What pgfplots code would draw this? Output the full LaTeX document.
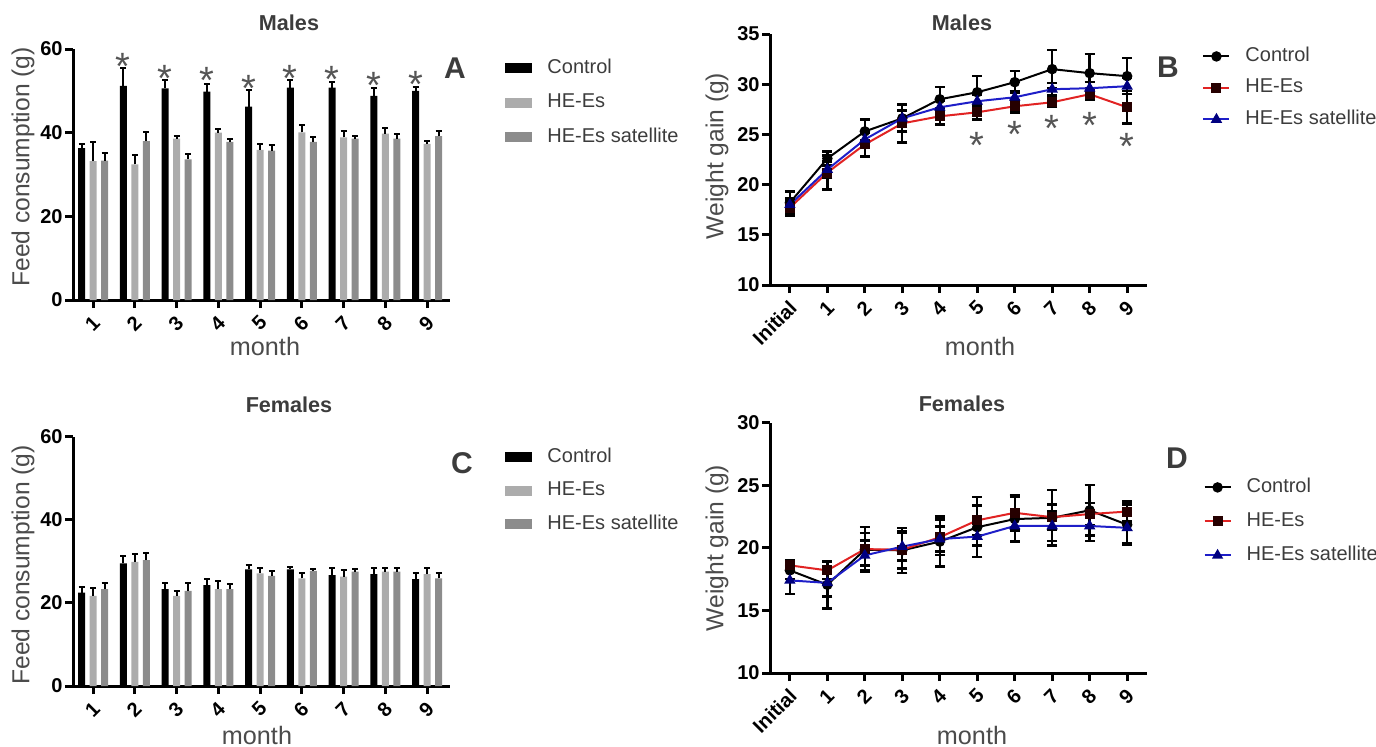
\documentclass[border=0pt]{standalone}
\usepackage{fontspec}
\setmainfont{Liberation Sans}
\usepackage{pgfplots}
\usepackage{pgfplotstable}
\pgfplotsset{compat=1.18}

\definecolor{lgray}{RGB}{172,172,172}
\definecolor{dgray}{RGB}{140,140,140}
\definecolor{labgray}{RGB}{75,75,75}
\definecolor{ttlgray}{RGB}{60,60,60}
\definecolor{astgray}{RGB}{85,85,85}
\definecolor{myred}{RGB}{225,35,35}
\definecolor{myblue}{RGB}{30,30,200}

% feed consumption, males (A): value and upper error
\pgfplotstableread{
m c ce h he s se
1 36.3 1.0 33.2 4.6 33.3 1.8
2 51.2 4.2 32.4 2.3 38.0 2.2
3 50.6 2.0 38.6 0.6 33.6 1.3
4 49.8 1.8 40.0 0.9 37.8 0.8
5 46.2 4.0 35.9 1.4 35.7 1.4
6 50.8 1.9 40.1 1.7 37.8 1.2
7 50.8 1.3 38.9 1.5 38.6 0.5
8 48.8 2.0 39.8 1.2 38.6 1.0
9 50.0 1.0 37.3 0.6 39.2 1.2
}\feedM

% feed consumption, females (C)
\pgfplotstableread{
m c ce h he s se
1 22.5 1.4 21.7 1.8 23.3 1.4
2 29.5 1.8 29.9 1.9 30.3 1.8
3 23.3 1.4 21.7 1.2 22.9 2.0
4 24.3 1.4 23.3 2.0 23.3 1.3
5 28.1 1.0 27.1 1.4 26.5 1.2
6 28.1 0.6 25.9 1.2 27.7 0.4
7 26.7 1.6 26.3 1.6 27.5 0.6
8 26.9 1.4 27.5 1.0 27.5 1.0
9 25.7 1.6 26.9 1.4 25.9 1.2
}\feedF

% significance marks above control bars (A)
\pgfplotstableread{
x y
1.724 57.8
2.724 55.0
3.724 54.3
4.724 52.6
5.724 55.0
6.724 54.7
7.724 53.1
8.724 53.5
}\astA

% weight gain, males (B), x=0 is Initial
\pgfplotstableread{
x c ce h he s se
0 18.2 1.1 17.7 0.8 18.0 0.6
1 22.6 0.7 21.2 1.7 21.5 0.8
2 25.3 1.2 24.0 1.2 24.5 0.8
3 26.6 1.3 26.1 1.9 26.6 0.8
4 28.5 1.2 26.8 0.8 27.7 0.6
5 29.2 1.6 27.2 0.7 28.3 0.6
6 30.2 1.1 27.8 0.6 28.7 0.6
7 31.5 1.9 28.2 0.5 29.5 0.6
8 31.1 1.9 29.0 0.6 29.6 0.6
9 30.8 1.8 27.7 1.6 29.8 0.8
}\wgtM

\pgfplotstableread{
x y
5 24.7
6 25.8
7 26.4
8 26.7
9 24.6
}\astB

% weight gain, females (D)
\pgfplotstableread{
x c ce h he s se
0 18.2 0.7 18.6 0.4 17.4 1.1
1 17.05 1.9 18.2 0.7 17.2 1.1
2 19.85 1.8 19.9 1.3 19.4 1.2
3 19.8 1.8 19.85 1.5 20.1 1.1
4 20.5 2.0 20.85 1.4 20.7 1.0
5 21.65 2.4 22.2 1.2 20.9 0.7
6 22.3 1.8 22.8 1.4 21.75 1.2
7 22.4 2.2 22.45 1.0 21.75 1.2
8 23.0 2.0 22.7 0.9 21.75 1.2
9 21.85 1.6 22.9 0.8 21.6 1.2
}\wgtF

\pgfplotsset{
  panel/.style={
    scale only axis, anchor=south west, clip=false,
    axis x line*=bottom, axis y line*=left,
    axis line style={line width=1.5pt, black},
    tick align=outside, major tick length=4pt,
    tick style={line width=1.5pt, black},
    /pgf/number format/assume math mode=true,
    ticklabel style={font=\bfseries\fontsize{10}{12}\selectfont, text=black},
    yticklabel style={inner sep=0pt, xshift=-1pt},
    xticklabel style={inner sep=0pt, xshift=1.75pt, yshift=-5.5pt, rotate=45, anchor=east},
    legend cell align=left,
    legend style={draw=none, fill=none, inner sep=0pt, font=\fontsize{10}{12}\selectfont,
      text=ttlgray, column sep=7.5pt,
      nodes={inner sep=0pt, text height=7pt, text depth=2pt}},
  },
  barpanel/.style={panel, width=188.5pt, xmin=0.52, xmax=9.55,
    ymin=0, ymax=60, ytick={0,20,40,60}, xtick={1,...,9}},
  linepanel/.style={panel, width=188.5pt, xmin=-0.53, xmax=9.53,
    xtick={0,...,9}, xticklabels={Initial,1,2,3,4,5,6,7,8,9}},
  bars/.style={ybar, bar width=3.5pt, bar shift=0pt, draw=none, fill=#1,
    legend image code/.code={\fill[##1] (0pt,-2.5pt) rectangle (13.5pt,2.5pt);},
    error bars/y dir=plus, error bars/y explicit,
    error bars/error bar style={line width=1pt, black},
    error bars/error mark options={rotate=90, mark size=1.5pt, line width=1pt, black}},
  series/.style={line width=1pt, color=#1,
    legend image code/.code={\draw[mark repeat=2, mark phase=2, ##1]
      plot coordinates {(0pt,0pt) (6.5pt,0pt) (13pt,0pt)};},
    error bars/y dir=both, error bars/y explicit,
    error bars/error bar style={line width=1.2pt, black},
    error bars/error mark options={rotate=90, mark size=2.5pt, line width=1.2pt, black}},
  stars/.style={only marks, forget plot, mark=text,
    text mark={\fontsize{19}{19}\selectfont\color{astgray}*},
    text mark style={y=-4pt}},
}

\begin{document}
\begin{tikzpicture}
\useasboundingbox (0,0) rectangle (688pt,373pt);

% A: males, feed (bars of a month sit 0.276 units apart)
\begin{axis}[barpanel, at={(36.5pt,223pt)}, height=125.5pt,
  legend style={at={(1.146,0.960)}, anchor=north west, row sep=8.25pt}]
  \addplot[bars=black] table[x expr=\thisrow{m}-0.276, y=c, y error=ce] {\feedM};
  \addplot[bars=lgray] table[x=m, y=h, y error=he] {\feedM};
  \addplot[bars=dgray] table[x expr=\thisrow{m}+0.276, y=s, y error=se] {\feedM};
  \addplot[stars] table[x=x, y=y] {\astA};
  \legend{Control, HE-Es, HE-Es satellite}
\end{axis}

% C: females, feed
\begin{axis}[barpanel, at={(36.5pt,30pt)}, height=124.65pt,
  legend style={at={(1.146,0.955)}, anchor=north west, row sep=7.75pt}]
  \addplot[bars=black] table[x expr=\thisrow{m}-0.276, y=c, y error=ce] {\feedF};
  \addplot[bars=lgray] table[x=m, y=h, y error=he] {\feedF};
  \addplot[bars=dgray] table[x expr=\thisrow{m}+0.276, y=s, y error=se] {\feedF};
  \legend{Control, HE-Es, HE-Es satellite}
\end{axis}

% B: males, weight
\begin{axis}[linepanel, at={(385pt,230.5pt)}, height=125.5pt,
  ymin=10, ymax=35, ytick={10,15,...,35},
  legend style={at={(1.146,0.948)}, anchor=north west, row sep=6.75pt}]
  \addplot[series=black, mark=*, mark size=2.1pt, mark options={fill=black, draw=black}]
    table[x=x, y=c, y error=ce] {\wgtM};
  \addplot[series=myred, mark=square*, mark size=2pt, mark options={fill=black!85!red, draw=black!85!red}]
    table[x=x, y=h, y error=he] {\wgtM};
  \addplot[series=myblue, mark=triangle*, mark size=2.3pt, mark options={fill=blue!50!black, draw=blue!50!black}]
    table[x=x, y=s, y error=se] {\wgtM};
  \addplot[stars] table[x=x, y=y] {\astB};
  \legend{Control, HE-Es, HE-Es satellite}
\end{axis}

% D: females, weight
\begin{axis}[linepanel, at={(385pt,36.5pt)}, height=125.15pt,
  ymin=10, ymax=30, ytick={10,15,...,30},
  legend style={at={(1.149,0.779)}, anchor=north west, row sep=8pt}]
  \addplot[series=black, mark=*, mark size=2.1pt, mark options={fill=black, draw=black}]
    table[x=x, y=c, y error=ce] {\wgtF};
  \addplot[series=myred, mark=square*, mark size=2pt, mark options={fill=black!85!red, draw=black!85!red}]
    table[x=x, y=h, y error=he] {\wgtF};
  \addplot[series=myblue, mark=triangle*, mark size=2.3pt, mark options={fill=blue!50!black, draw=blue!50!black}]
    table[x=x, y=s, y error=se] {\wgtF};
  \legend{Control, HE-Es, HE-Es satellite}
\end{axis}

% titles, panel letters, axis labels
\begin{scope}[every node/.style={inner sep=0pt}]
\node[font=\bfseries\fontsize{10.8}{12}\selectfont, text=ttlgray] at (144.5pt,361.5pt) {Males};
\node[font=\bfseries\fontsize{10.8}{12}\selectfont, text=ttlgray] at (481pt,361.5pt) {Males};
\node[font=\bfseries\fontsize{10.8}{12}\selectfont, text=ttlgray] at (144.5pt,170.5pt) {Females};
\node[font=\bfseries\fontsize{10.8}{12}\selectfont, text=ttlgray] at (481pt,171pt) {Females};
\node[font=\bfseries\fontsize{15}{16}\selectfont, text=ttlgray] at (227.5pt,339pt) {A};
\node[font=\bfseries\fontsize{15}{16}\selectfont, text=ttlgray] at (584pt,339.5pt) {B};
\node[font=\bfseries\fontsize{15}{16}\selectfont, text=ttlgray] at (231pt,141.5pt) {C};
\node[font=\bfseries\fontsize{15}{16}\selectfont, text=ttlgray] at (588.5pt,144pt) {D};
\node[rotate=90, font=\fontsize{12.3}{14}\selectfont, text=labgray] at (11.5pt,289.5pt) {Feed consumption (g)};
\node[rotate=90, font=\fontsize{12.3}{14}\selectfont, text=labgray] at (11.5pt,90.5pt) {Feed consumption (g)};
\node[rotate=90, font=\fontsize{12.3}{14}\selectfont, text=labgray] at (358.5pt,295pt) {Weight gain (g)};
\node[rotate=90, font=\fontsize{12.3}{14}\selectfont, text=labgray] at (358.5pt,99pt) {Weight gain (g)};
\node[font=\fontsize{12.6}{14}\selectfont, text=labgray] at (132.5pt,199.8pt) {month};
\node[font=\fontsize{12.6}{14}\selectfont, text=labgray] at (128.5pt,5.2pt) {month};
\node[font=\fontsize{12.6}{14}\selectfont, text=labgray] at (490pt,200pt) {month};
\node[font=\fontsize{12.6}{14}\selectfont, text=labgray] at (486pt,5.5pt) {month};
\end{scope}
\end{tikzpicture}
\end{document}
